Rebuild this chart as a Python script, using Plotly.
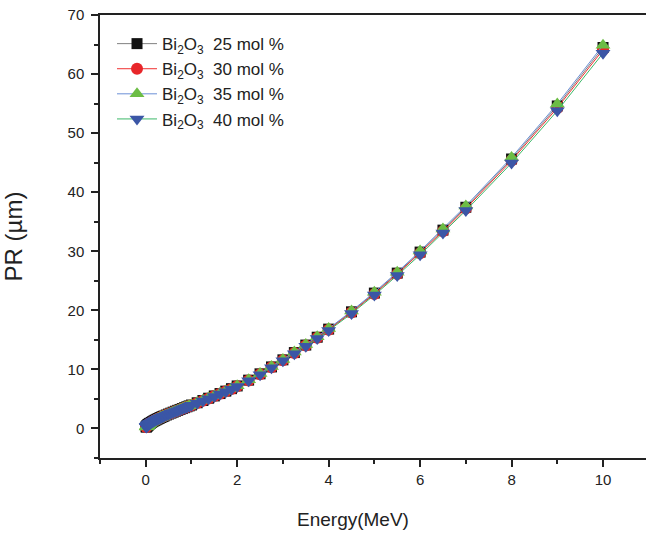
import plotly.graph_objects as go

energy = [0.01, 0.0125, 0.015, 0.0175, 0.02, 0.025, 0.03, 0.035, 0.04, 0.045,
          0.05, 0.055, 0.06, 0.07, 0.08, 0.09, 0.1, 0.125, 0.15, 0.175,
          0.2, 0.225, 0.25, 0.275, 0.3, 0.325, 0.35, 0.375, 0.4, 0.45,
          0.5, 0.55, 0.6, 0.65, 0.7, 0.75, 0.8, 0.85, 0.9, 0.95,
          1.0, 1.125, 1.25, 1.375, 1.5, 1.625, 1.75, 1.875, 2.0, 2.25,
          2.5, 2.75, 3.0, 3.25, 3.5, 3.75, 4.0, 4.5, 5.0, 5.5,
          6.0, 6.5, 7.0, 8.0, 9.0, 10.0]

pr_25 = [0.25, 0.28, 0.31, 0.33, 0.36, 0.40, 0.44, 0.48, 0.52, 0.56,
         0.60, 0.63, 0.67, 0.73, 0.79, 0.85, 0.90, 1.03, 1.15, 1.26,
         1.37, 1.47, 1.57, 1.67, 1.76, 1.85, 1.94, 2.03, 2.11, 2.28,
         2.44, 2.60, 2.76, 2.92, 3.07, 3.22, 3.37, 3.52, 3.67, 3.82,
         3.97, 4.35, 4.73, 5.12, 5.51, 5.91, 6.32, 6.74, 7.20, 8.18,
         9.25, 10.42, 11.62, 12.85, 14.12, 15.45, 16.82, 19.75, 22.92, 26.30,
         29.86, 33.58, 37.45, 45.62, 54.60, 64.50]

pr_30 = [0.25, 0.28, 0.31, 0.33, 0.36, 0.40, 0.44, 0.48, 0.52, 0.56,
         0.60, 0.63, 0.67, 0.73, 0.79, 0.84, 0.89, 1.02, 1.14, 1.25,
         1.36, 1.46, 1.56, 1.66, 1.75, 1.84, 1.93, 2.02, 2.10, 2.27,
         2.43, 2.58, 2.74, 2.90, 3.05, 3.20, 3.35, 3.50, 3.65, 3.80,
         3.95, 4.32, 4.70, 5.09, 5.48, 5.87, 6.28, 6.70, 7.16, 8.13,
         9.19, 10.36, 11.55, 12.77, 14.04, 15.36, 16.72, 19.63, 22.78, 26.14,
         29.68, 33.38, 37.22, 45.35, 54.27, 64.11]

pr_35 = [0.25, 0.28, 0.31, 0.33, 0.36, 0.40, 0.44, 0.48, 0.52, 0.56,
         0.60, 0.63, 0.67, 0.73, 0.79, 0.86, 0.91, 1.04, 1.16, 1.27,
         1.38, 1.48, 1.58, 1.68, 1.77, 1.86, 1.95, 2.04, 2.12, 2.29,
         2.45, 2.62, 2.78, 2.94, 3.09, 3.24, 3.39, 3.54, 3.69, 3.84,
         3.99, 4.38, 4.76, 5.15, 5.54, 5.95, 6.36, 6.78, 7.24, 8.23,
         9.31, 10.48, 11.69, 12.93, 14.20, 15.54, 16.92, 19.87, 23.06, 26.46,
         30.04, 33.78, 37.67, 45.89, 54.93, 64.89]

pr_40 = [0.25, 0.28, 0.31, 0.33, 0.35, 0.39, 0.43, 0.47, 0.51, 0.55,
         0.59, 0.62, 0.66, 0.72, 0.78, 0.84, 0.89, 1.01, 1.13, 1.24,
         1.35, 1.45, 1.55, 1.64, 1.73, 1.82, 1.91, 2.00, 2.08, 2.25,
         2.40, 2.56, 2.72, 2.88, 3.02, 3.17, 3.32, 3.47, 3.61, 3.76,
         3.91, 4.28, 4.66, 5.04, 5.43, 5.82, 6.23, 6.64, 7.09, 8.06,
         9.11, 10.26, 11.45, 12.66, 13.91, 15.22, 16.57, 19.45, 22.58, 25.91,
         29.41, 33.08, 36.89, 44.94, 53.78, 63.53]

series_names = ["Bi<sub>2</sub>O<sub>3</sub>  25 mol %",
                "Bi<sub>2</sub>O<sub>3</sub>  30 mol %",
                "Bi<sub>2</sub>O<sub>3</sub>  35 mol %",
                "Bi<sub>2</sub>O<sub>3</sub>  40 mol %"]

x_title = "Energy(MeV)"
y_title = "PR (µm)"

styles = [
    dict(line="#808080", marker="#111111", symbol="square", size=11),
    dict(line="#f03030", marker="#e8262a", symbol="circle", size=12),
    dict(line="#6b8fd6", marker="#6cbd45", symbol="triangle-up", size=13),
    dict(line="#3cb868", marker="#3b56a6", symbol="triangle-down", size=13),
]

fig = go.Figure()
for name, ys, st in zip(series_names, [pr_25, pr_30, pr_35, pr_40], styles):
    fig.add_trace(go.Scatter(
        x=energy, y=ys, name=name, mode="lines+markers",
        line=dict(color=st["line"], width=1),
        marker=dict(symbol=st["symbol"], color=st["marker"], size=st["size"],
                    line=dict(width=0)),
    ))

font_fam = "Liberation Sans, Arial, sans-serif"
fig.update_layout(
    width=646, height=539,
    margin=dict(l=100, r=0, t=15, b=81, autoexpand=False),
    paper_bgcolor="white", plot_bgcolor="white",
    font=dict(family=font_fam, color="#222222"),
    showlegend=True,
    legend=dict(x=0.022, y=0.975, xanchor="left", yanchor="top",
                bgcolor="rgba(0,0,0,0)", font=dict(size=17, color="#222222"),
                tracegroupgap=0, itemwidth=40),
    annotations=[dict(text=x_title, xref="paper", yref="paper",
                      x=0.463, y=-0.1377, xanchor="center", yanchor="middle",
                      showarrow=False, font=dict(size=19, color="#222222"))],
)
fig.update_xaxes(
    range=[-1.0, 10.94], tickmode="linear", tick0=0, dtick=2, automargin=False,
    ticks="outside", ticklen=7, tickwidth=1.5, tickcolor="#222222",
    minor=dict(ticks="outside", ticklen=4, dtick=1, tick0=1, tickcolor="#222222", tickwidth=1.5),
    showline=True, linecolor="#222222", linewidth=1.5, mirror=True,
    showgrid=False, zeroline=False,
    tickfont=dict(size=15), ticklabeloverflow="allow",
)
fig.update_yaxes(
    range=[-5, 70], tickmode="linear", tick0=0, dtick=10, automargin=False,
    ticks="outside", ticklen=7, tickwidth=1.5, tickcolor="#222222",
    minor=dict(ticks="outside", ticklen=4, dtick=5, tick0=5, tickcolor="#222222", tickwidth=1.5),
    showline=True, linecolor="#222222", linewidth=1.5, mirror=False,
    showgrid=False, zeroline=False,
    tickfont=dict(size=15), ticklabelstandoff=4, ticklabeloverflow="allow",
    title=dict(text=y_title, font=dict(size=24), standoff=39),
)

fig.write_html("out.html",
               config={"displayModeBar": False},
               post_script="document.body.style.margin='0';document.body.style.overflow='hidden';")
